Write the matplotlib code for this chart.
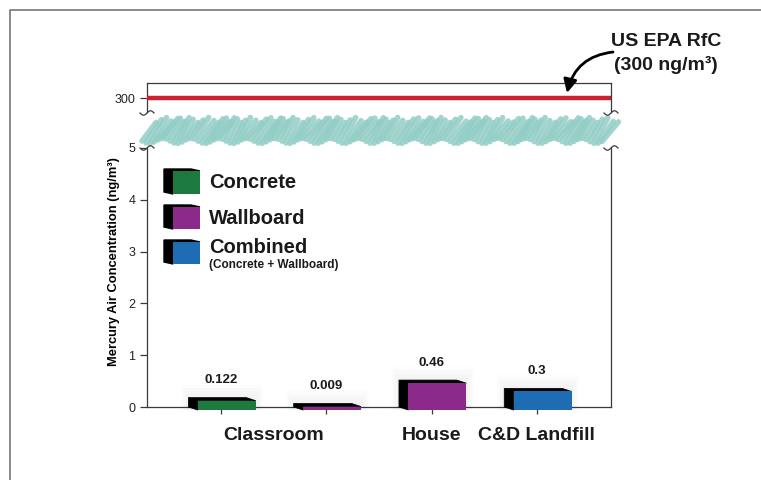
import matplotlib
matplotlib.use("Agg")
import matplotlib.pyplot as plt
import numpy as np
from matplotlib.patches import Polygon, Rectangle

plt.rcParams["font.family"] = ["Liberation Sans", "DejaVu Sans"]

# data
categories = ["Classroom", "House", "C&D Landfill"]
bar_group = [0, 0, 1, 2]
bar_material = ["Concrete", "Wallboard", "Wallboard", "Combined"]
bar_values = [0.122, 0.009, 0.46, 0.3]
bar_text = ["0.122", "0.009", "0.46", "0.3"]
rfc_value = 300
y_ticks = [0, 1, 2, 3, 4, 5]

colors = {"Concrete": "#1c7a3f", "Wallboard": "#8c2a8c", "Combined": "#1e6cb4"}
legend_items = ["Concrete", "Wallboard", "Combined"]

W, H = 761, 480
fig = plt.figure(figsize=(W / 100, H / 100), dpi=100)


def frac(x0, y0, x1, y1):
    # pixel box (top-left origin) -> figure fraction rect
    return [x0 / W, 1 - y1 / H, (x1 - x0) / W, (y1 - y0) / H]


spine_c = "#3a3a3a"

# lower panel: measured concentrations
ax = fig.add_axes(frac(147, 148, 611, 407))
ax.set_xlim(-0.703, 3.704)
ax.set_ylim(0, 5)
ax.spines["top"].set_visible(False)
for s in ("left", "right", "bottom"):
    ax.spines[s].set_color(spine_c)
    ax.spines[s].set_linewidth(0.9)
ax.set_yticks(y_ticks)
ax.set_yticklabels([str(t) for t in y_ticks], fontsize=9, color="#222222")
positions = np.arange(len(bar_values))
ax.set_xticks(positions)
ax.set_xticklabels([])
ax.tick_params(axis="both", direction="out", length=5, width=0.9, color=spine_c)
ax.set_ylabel("Mercury Air Concentration (ng/m³)", fontsize=9.3,
              fontweight="bold")
ax.yaxis.set_label_coords(-0.058, 0.56)

dx, dy, drop = 0.09, 0.06, 0.06
for pos, mat, val, txt in zip(positions, bar_material, bar_values, bar_text):
    x0, x1 = pos - 0.22, pos + 0.33
    # faint haze around the block
    for k in range(1, 5):
        e = k * 0.018
        ax.add_patch(Rectangle((x0 - dx - e, -drop), x1 - x0 + dx + 2 * e,
                               val + dy + drop + e * 3.5, facecolor="#000000",
                               alpha=0.012, edgecolor="none", zorder=3,
                               clip_on=False))
    side = Polygon([(x0, -drop), (x0 - dx, 0), (x0 - dx, val + dy),
                    (x1 - dx, val + dy), (x1, val), (x0, val)],
                   closed=True, facecolor="black", edgecolor="black", lw=0.5,
                   zorder=4, clip_on=False)
    ax.add_patch(side)
    ax.add_patch(Rectangle((x0, -drop), x1 - x0, val + drop, facecolor=colors[mat],
                           edgecolor="none", zorder=5, clip_on=False))
    ax.annotate(txt, (pos, val + dy), xytext=(0, 8), textcoords="offset points",
                ha="center", va="bottom", fontsize=9.5, fontweight="bold",
                color="#1a1a1a")

for gi, name in enumerate(categories):
    xs = [p for p, g in zip(positions, bar_group) if g == gi]
    ax.text(np.mean(xs), -0.38, name, ha="center", va="top", fontsize=14,
            fontweight="bold", color="#1a1a1a", transform=ax.transData)

# upper panel: reference level
axt = fig.add_axes(frac(147, 83, 611, 112))
axt.set_xlim(0, 1)
axt.set_ylim(295, 305.5)
axt.spines["bottom"].set_visible(False)
for s in ("left", "right", "top"):
    axt.spines[s].set_color(spine_c)
    axt.spines[s].set_linewidth(0.9)
axt.set_xticks([])
axt.set_yticks([rfc_value])
axt.set_yticklabels([str(rfc_value)], fontsize=9, color="#222222")
axt.tick_params(axis="y", direction="out", length=5, width=0.9, color=spine_c)
axt.axhline(rfc_value, color="#cf2030", lw=3.2, zorder=3)

# overlay in pixel coordinates for the decorations
ov = fig.add_axes([0, 0, 1, 1])
ov.set_xlim(0, W)
ov.set_ylim(H, 0)
ov.axis("off")
ov.patch.set_alpha(0)

# outer frame
ov.plot([10, 10, W + 5], [H + 5, 10, 10], color="#777777", lw=1.2)

# axis break scribble
xs_s = np.arange(142, 603, 4.0)
for i, xs in enumerate(xs_s):
    y_lo = 141 + 2.5 * np.sin(i * 0.9)
    y_hi = 120 + 2.5 * np.cos(i * 1.7)
    ov.plot([xs, xs + 14 + 3 * np.sin(i * 0.5)], [y_lo, y_hi], color="#93cec6",
            lw=4.0, solid_capstyle="round", alpha=0.85)

# break marks on the spines
t = np.linspace(-7, 7, 40)
for xb in (147, 611):
    for yb in (113, 148):
        ov.plot(xb + t, yb - 2.2 * np.sin(np.pi * t / 7), color=spine_c, lw=0.9)

# legend
leg_box = [(170, 194), (206, 229), (241, 264)]
leg_base = [188, 224, 253]
for name, (fy0, fy1), yb in zip(legend_items, leg_box, leg_base):
    fx0, fx1 = 173, 200
    ov.add_patch(Polygon([(fx0, fy1), (fx0 - 9, fy1 - 2), (fx0 - 9, fy0 - 1),
                          (fx1 - 9, fy0 - 1), (fx1, fy0 + 1), (fx0, fy0 + 1)],
                         closed=True, facecolor="black", edgecolor="black"))
    ov.add_patch(Rectangle((fx0, fy0 + 1), fx1 - fx0, fy1 - fy0 - 1,
                           facecolor=colors[name], edgecolor="none"))
    ov.text(209, yb, name, fontsize=14.5, fontweight="bold", va="baseline",
            ha="left", color="#1a1a1a")
ov.text(209, 268, "(Concrete + Wallboard)", fontsize=8.5, fontweight="bold",
        va="baseline", ha="left", color="#1a1a1a")

# reference annotation
ov.text(666, 42, "US EPA RfC", fontsize=14, fontweight="bold", ha="center",
        va="center", color="#1a1a1a")
ov.text(666, 65, "(300 ng/m³)", fontsize=14, fontweight="bold",
        ha="center", va="center", color="#1a1a1a")
ov.annotate("", xy=(567, 93), xytext=(613, 52),
            arrowprops=dict(arrowstyle="-|>,head_length=0.8,head_width=0.4",
                            connectionstyle="arc3,rad=0.35", color="black",
                            lw=2, shrinkA=0, shrinkB=0))

fig.savefig("out.png", dpi=100)
